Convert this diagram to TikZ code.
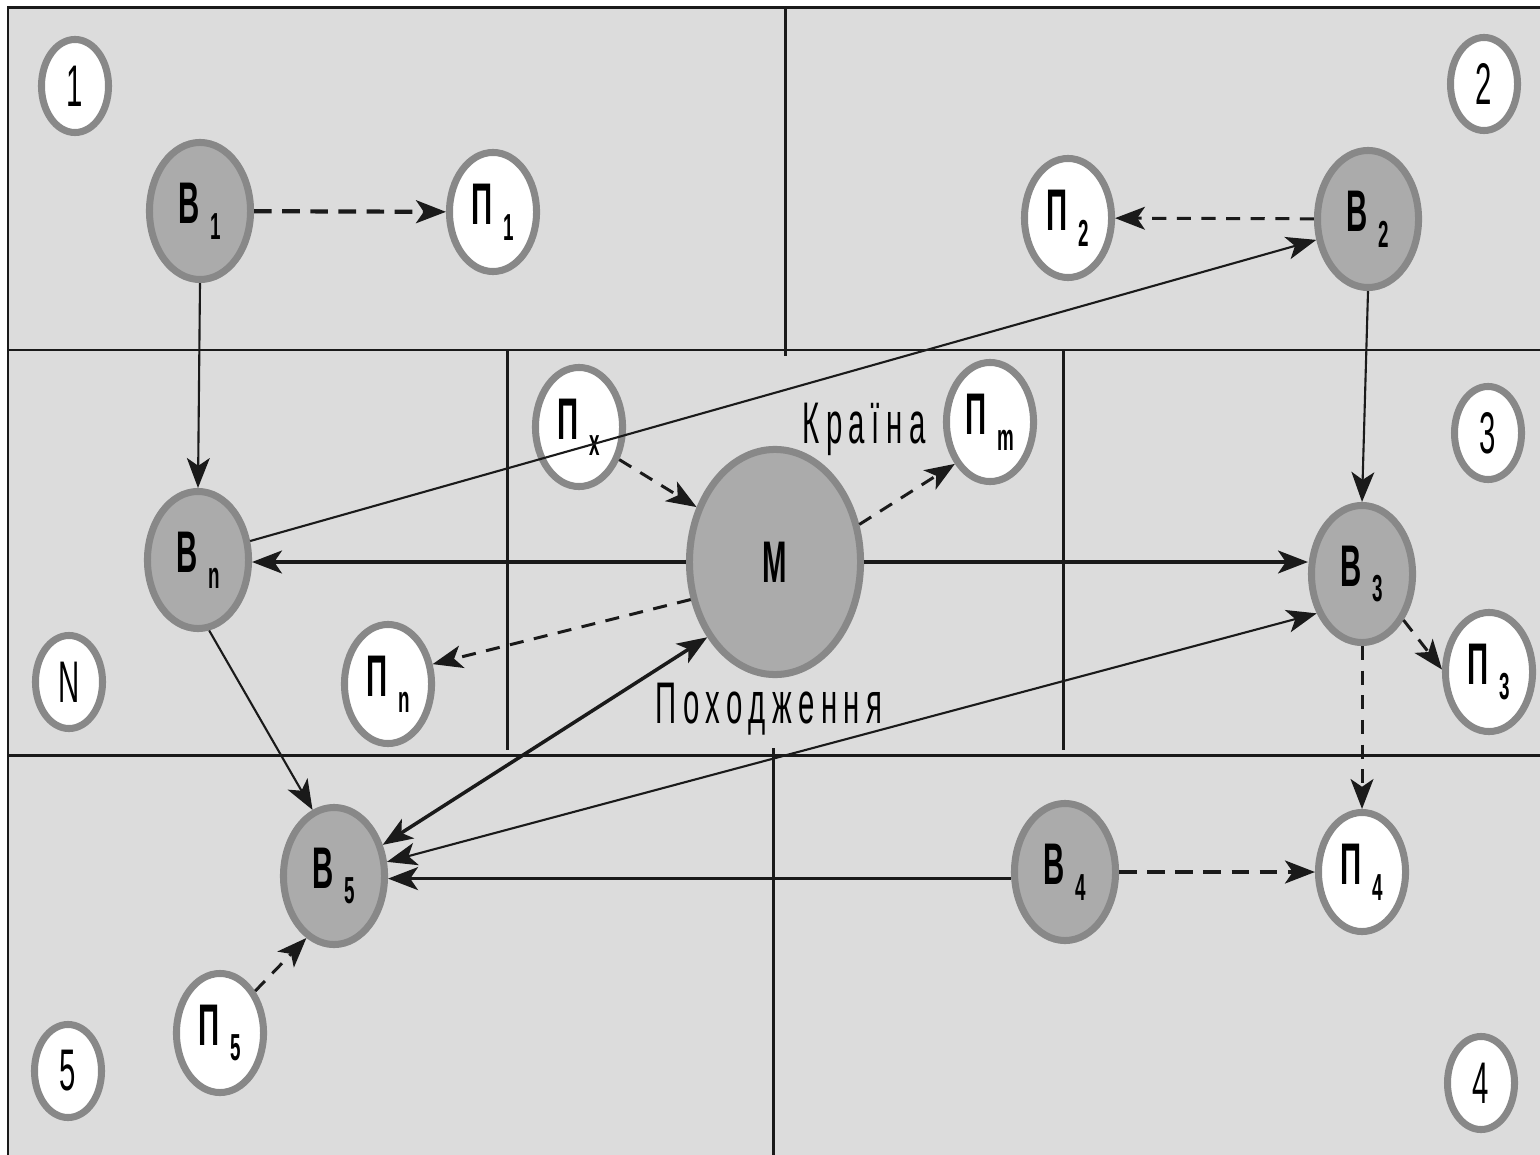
\documentclass[tikz,border=0pt]{standalone}
\usepackage{fontspec}
\usetikzlibrary{shapes.geometric,arrows.meta}
\newfontfamily\cond[FakeStretch=0.5]{Liberation Sans}
\newfontfamily\condsp[FakeStretch=0.5,LetterSpace=11]{Liberation Sans}
\definecolor{bgc}{HTML}{DCDCDC}
\definecolor{bfill}{HTML}{ABABAB}
\definecolor{bord}{HTML}{888888}
\definecolor{ink}{HTML}{1A1A1A}
\newcommand\bigsz{\fontsize{16.7}{18}\selectfont}
\newcommand\nl[2]{{\bigsz\cond\bfseries #1}\kern3pt\raisebox{-4.5pt}{\fontsize{10.7}{11}\selectfont\cond\bfseries #2}}
\tikzset{
  vnode/.style={ellipse,draw=bord,line width=2pt,fill=bfill,minimum width=1.01cm,minimum height=1.37cm,inner sep=0pt},
  pnode/.style={ellipse,draw=bord,line width=2pt,fill=white,minimum width=0.87cm,minimum height=1.19cm,inner sep=0pt},
  mnode/.style={ellipse,draw=bord,line width=2pt,fill=bfill,minimum width=1.71cm,minimum height=2.25cm,inner sep=0pt},
  rnode/.style={ellipse,draw=bord,line width=2pt,fill=white,minimum width=0.67cm,minimum height=0.93cm,inner sep=0pt,font=\bigsz\cond},
  frameline/.style={draw=ink,line width=0.85pt},
  solidthin/.style={draw=ink,line width=0.6pt,->},
  solidthick/.style={draw=ink,line width=1pt,->},
  dashthick/.style={draw=ink,line width=1.2pt,dash pattern=on 5pt off 3pt,->},
  dashthin/.style={draw=ink,line width=0.85pt,dash pattern=on 4pt off 3pt,->},
  caption/.style={font=\bigsz\condsp,text=black,anchor=base,inner sep=0pt}
}
\begin{document}
\begin{tikzpicture}[x=0.01cm,y=-0.01cm,>={Stealth[length=8.5pt,width=6.5pt,inset=2.2pt]}]
\useasboundingbox (0,0) rectangle (1540,1155);
\fill[white] (0,0) rectangle (1540,1155);
\clip (0,0) rectangle (1540,1155);
% frame and regions
\fill[bgc] (8,8) rectangle (1560,1170);
\draw[frameline] (8,8) rectangle (1560,1170);
\draw[frameline] (8,350) -- (1560,350);
\draw[frameline] (8,755) -- (1560,755);
\draw[frameline] (785,8) -- (785,356);
\draw[frameline] (507,350) -- (507,750);
\draw[frameline] (1063,350) -- (1063,750);
\draw[frameline] (773,748) -- (773,1170);
% region labels
\node[rnode] (r1) at (75,86) {1};
\node[rnode] (r2) at (1484,84) {2};
\node[rnode] (r3) at (1488,433) {3};
\node[rnode] (rN) at (69,682) {N};
\node[rnode] (r5) at (68,1071) {5};
\node[rnode] (r4) at (1481,1083) {4};
% main nodes
\node[vnode] (B1) at (200,211) {\nl{В}{1}};
\node[pnode] (P1) at (493,212) {\nl{П}{1}};
\node[vnode] (B2) at (1368,219) {\nl{В}{2}};
\node[pnode] (P2) at (1068,218) {\nl{П}{2}};
\node[vnode] (Bn) at (198,560) {\nl{В}{n}};
\node[pnode] (Pn) at (388,684) {\nl{П}{n}};
\node[pnode] (Px) at (579,427) {\nl{П}{x}};
\node[pnode] (Pm) at (990,422) {\nl{П}{m}};
\node[mnode] (M) at (775,562) {{\bigsz\cond\bfseries М}};
\node[vnode] (B3) at (1362,574) {\nl{В}{3}};
\node[pnode] (P3) at (1489,672) {\nl{П}{3}};
\node[vnode] (B4) at (1065,872) {\nl{В}{4}};
\node[pnode] (P4) at (1362,872) {\nl{П}{4}};
\node[vnode] (B5) at (334,876) {\nl{В}{5}};
\node[pnode] (P5) at (220,1033) {\nl{П}{5}};
% captions
\node[caption] (cap1) at (864,443) {Країна};
\node[caption] (cap2) at (769,723) {Походження};
% connectors
\draw[dashthick] (B1) -- (P1);
\draw[dashthin] (B2) -- (P2);
\draw[solidthin] (B1.south) -- (Bn.north);
\draw[solidthin] (B2.south) -- (B3.north);
\draw[solidthin] (Bn.20) -- (B2.202);
\draw[solidthick] (M) -- (M -| Bn.east);
\draw[solidthick] (M) -- (M -| B3.west);
\draw[dashthin] (Px.321) -- (M.145);
\draw[dashthin] (M.24) -- (Pm.230);
\draw[dashthin] (M.204) -- (Pn.24);
\draw[solidthick,<->] (B5) -- (M.228);
\draw[solidthin,<->] (B5) -- (B3.221);
\draw[solidthick] (B4.187) -- (B4.187 -| B5.east);
\draw[dashthick] (B4) -- (P4);
\draw[dashthin] (B3.312) -- (P3.177);
\draw[dashthin] (B3.south) -- (P4.north);
\draw[solidthin] (Bn.279) -- (B5.108);
\draw[dashthin] (P5.50) -- (B5.246);
\end{tikzpicture}
\end{document}
